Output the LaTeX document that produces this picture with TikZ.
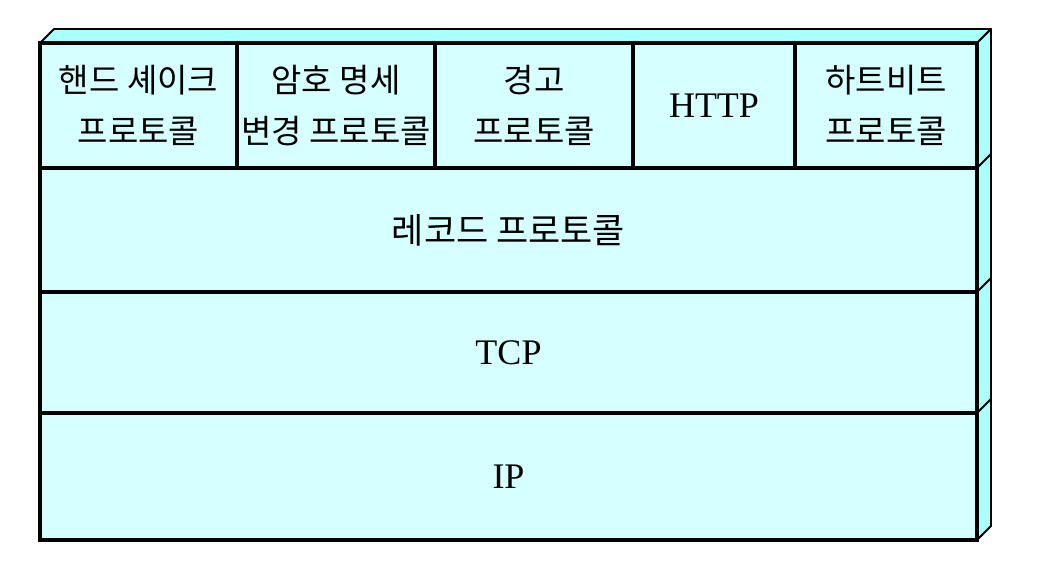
\documentclass[tikz,border=0pt]{standalone}
\usepackage{fontspec}
\setmainfont{Liberation Serif}
\newfontfamily\kr{Noto Sans CJK KR}
\usetikzlibrary{positioning}
\definecolor{frontcyan}{RGB}{214,255,255}
\definecolor{sidecyan}{RGB}{170,255,255}

\begin{document}
\begin{tikzpicture}[x=1pt, y=-1pt,
	face/.style={fill=sidecyan, draw=black, line width=1.8pt, line join=round},
	cell/.style={draw, fill=frontcyan, line width=4.5pt, inner sep=0pt, minimum height=125pt, align=center, font=\kr\fontsize{33}{51}\selectfont},
	layer/.style={draw, fill=frontcyan, line width=3.2pt, inner sep=0pt, minimum width=937pt, font=\fontsize{36}{40}\selectfont}]
		\useasboundingbox (0,0) rectangle (1038,572);
		\fill[white] (0,0) rectangle (1038,572);
		% top and side faces
		\draw[face] (40,43) -- (54,29) -- (991,29) -- (977,43) -- cycle;
		\draw[face] (977,43) -- (991,29) -- (991,526) -- (977,540) -- cycle;
		\foreach \y in {168, 292, 413}{
			\draw[face] (977,\y) -- (991,\y-14);
		}
		\node[layer, minimum height=124pt] (record) at (508.5,230) {\kr\fontsize{35}{40}\selectfont 레코드 프로토콜};
		\node[layer, minimum height=121pt] (tcp) at (508.5,352.5) {TCP};
		\node[layer, minimum height=127pt] (ip) at (508.5,476.5) {IP};
		\foreach \l/\r/\name/\txt in {40/237/handshake/{핸드 셰이크\\프로토콜}, 237/435/cipher/{암호 명세\\변경 프로토콜}, 435/633/alert/{경고\\프로토콜}, 633/795/http/{\rmfamily\fontsize{36}{40}\selectfont HTTP}, 795/977/heartbeat/{하트비트\\프로토콜}}{
			\node[cell, minimum width={\r-\l}] (\name) at ({(\l+\r)/2},105.5) {\txt};
		}
	\end{tikzpicture}
\end{document}
